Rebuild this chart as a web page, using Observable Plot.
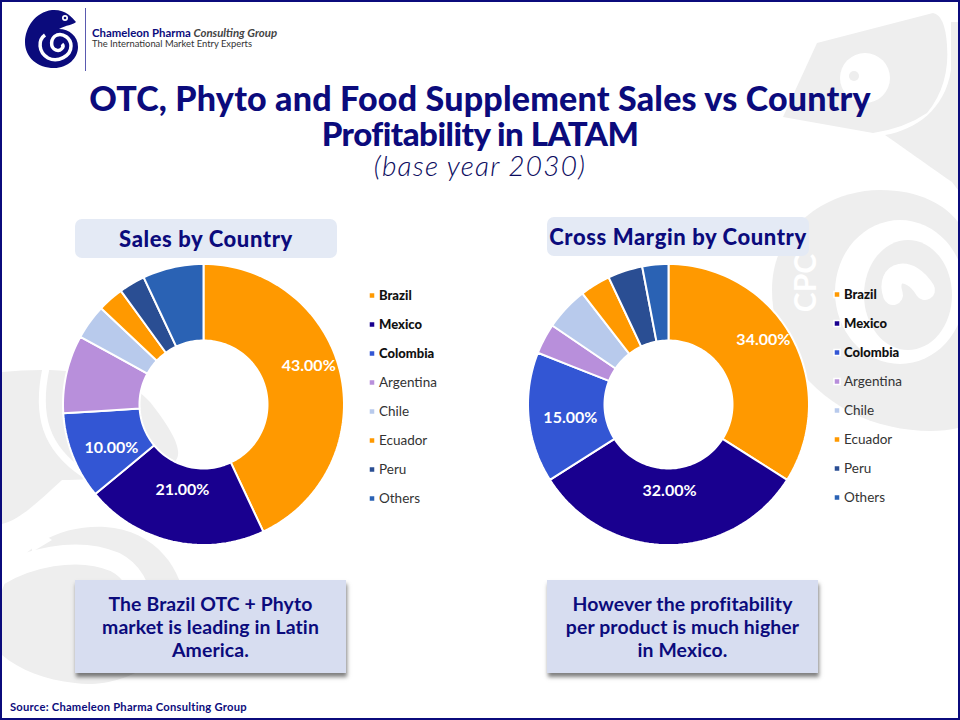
<!DOCTYPE html>
<html><head><meta charset="utf-8">
<script src="https://cdn.jsdelivr.net/npm/d3@7"></script>
<script src="https://cdn.jsdelivr.net/npm/@observablehq/plot@0.6"></script>
<style>
html,body{margin:0;padding:0;background:#fff}
#page{position:relative;width:960px;height:720px;overflow:hidden;background:#fff;font-family:Lato,sans-serif;color:#0b0b7c}
#frame{position:absolute;inset:0;border:2px solid #0b0b7c;box-sizing:border-box;pointer-events:none;z-index:9}
.abs{position:absolute}
#title{left:0;width:960px;top:80px;text-align:center;font-size:34px;font-weight:900;line-height:35px;letter-spacing:.2px}
#title span{font-size:33px;letter-spacing:-.5px}
#sub{left:0;width:960px;top:148px;text-align:center;font-size:28px;font-style:italic;font-weight:300;letter-spacing:1.2px;color:#0b0b60}
.pill{background:#e4eaf5;border-radius:7px;text-align:center;font-size:22px;font-weight:900;letter-spacing:.6px;height:39px;line-height:39px}
.note{background:#d7ddf0;box-shadow:1px 4px 4px rgba(0,0,0,.5);text-align:center;font-size:19.4px;font-weight:700;line-height:23px;width:271px;height:93px;padding-top:12px;box-sizing:border-box;letter-spacing:.12px}
.plot{position:absolute}
.plot svg{display:block;background:transparent!important}
#src{left:10px;top:700px;font-size:11.2px;font-weight:700;letter-spacing:.25px}
#brand{left:92px;top:26px;font-size:11.4px;font-weight:700;color:#0b0b7c}
#brand i{color:#444;font-weight:700}
#tag{left:92px;top:38px;font-size:9.4px;color:#333}
</style></head><body>
<div id="page">
<svg class="abs" id="decor" width="960" height="720" style="left:0;top:0">
 <g fill="#eeeeee">
  <path d="M2 372C60 366 125 372 150 402C180 440 185 458 170 465C140 475 95 480 62 480C40 500 20 520 2 524Z"/>
  <path d="M2 590C20 545 60 525 105 527C155 530 185 570 185 610C180 660 120 690 75 683C45 680 20 670 2 655Z"/>
  <path d="M772 290C772 225 830 190 880 190C920 190 945 205 958 222V428C930 435 885 430 850 412C800 385 772 340 772 290Z"/>
  <path d="M817 43L933 13Q945 15 947 45Q950 85 927 113Q905 128 873 133L783 117Q800 80 817 43Z"/>
  <path d="M951 22H958V190L952 182C920 160 900 145 885 135C915 130 945 110 951 70Z"/>
 </g>
 <circle cx="865" cy="78" r="25" fill="#fff"/><circle cx="854" cy="76" r="5" fill="#eeeeee"/>
 <ellipse cx="900" cy="292" rx="65" ry="72" fill="#fff"/>
 <ellipse cx="908" cy="295" rx="44" ry="55" fill="#eeeeee"/>
 <path d="M925 290C910 265 885 270 893 295" fill="none" stroke="#fff" stroke-width="20" stroke-linecap="round"/>
 <path d="M46 368C36 415 45 448 84 474" fill="none" stroke="#fff" stroke-width="7"/>
 <path d="M30 525L52 540L32 552Z" fill="#fff"/>
 <path d="M0 575C25 560 75 545 115 562C150 580 150 630 115 640C95 645 80 625 95 610" fill="none" stroke="#fff" stroke-width="20" stroke-linecap="round"/>
 <text transform="translate(816,283) rotate(-90)" font-family="Lato" font-size="30" font-weight="700" fill="#fff" text-anchor="middle">CPC</text>
 <g>
  <path d="M52 10C35 12 25 28 25 42C25 58 38 68 54 68C68 68 78 58 78 47C78 36 69 29 59 29C66 25 73 25 76 22C72 17 65 9 52 10Z" fill="#0b0b7c"/>
  <path d="M45 35C38 40 38 52 48 58C58 63 71 56 71 46C71 38 63 33 57 35C50 38 50 48 56 50C60 52 65 47 62 44" fill="none" stroke="#fff" stroke-width="3.5"/>
  <circle cx="65" cy="18" r="3" fill="#fff"/><circle cx="65" cy="18" r="1.3" fill="#0b0b7c"/>
  <rect x="85" y="8" width="1" height="63" fill="#5a5ab0"/>
 </g>
</svg>
<div class="abs" id="brand">Chameleon Pharma <i>Consulting Group</i></div>
<div class="abs" id="tag">The International Market Entry Experts</div>
<div class="abs" id="title">OTC, Phyto and Food Supplement Sales vs Country<br><span>Profitability in LATAM</span></div>
<div class="abs" id="sub">(base year 2030)</div>
<div class="abs pill" style="left:75px;top:219px;width:262px">Sales by Country</div>
<div class="abs pill" style="left:547px;top:217px;width:262px">Cross Margin by Country</div>
<div class="abs note" style="left:75px;top:580px">The Brazil OTC + Phyto<br>market is leading in Latin<br>America.</div>
<div class="abs note" style="left:547px;top:580px">However the profitability<br>per product is much higher<br>in Mexico.</div>
<div class="abs" id="src">Source: Chameleon Pharma Consulting Group</div>
<div id="frame"></div>
</div>
<script>
const countries = ["Brazil","Mexico","Colombia","Argentina","Chile","Ecuador","Peru","Others"];
const salesValues  = [43,21,10,9,4,3,3,7];
const marginValues = [34,32,15,3.5,5,3.5,4,3];
const labelled = ["Brazil","Mexico","Colombia"];
const sliceColors = ["#ff9900","#19008f","#3356d4","#b88fdb","#b8caec","#ff9900","#2a4e93","#2a62b4"];
const boldLegend = ["Brazil","Mexico","Colombia"];

const R = 140.5, size = 284;
const rToLat = r => 90 - 90 * r / R;     // radius on the azimuthal map to latitude
const holeLat = rToLat(64), rimLat = rToLat(R);
const toLon = a => 180 - a;              // clockwise from 12 o'clock to longitude
function slices(values){
  let c = 0;
  return values.map((v,i)=>{
    const a0 = c/100*360, a1 = (c+v)/100*360; c += v;
    return {name:countries[i], value:v, a0, a1, mid:(a0+a1)/2};
  });
}
function ring(s){
  const n = Math.max(2, Math.ceil((s.a1-s.a0)/2));
  const outer = d3.range(n+1).map(k=>[toLon(s.a0+(s.a1-s.a0)*k/n), rimLat]);
  const inner = d3.range(n+1).map(k=>[toLon(s.a1-(s.a1-s.a0)*k/n), holeLat]);
  const pts = outer.concat(inner); pts.push(pts[0]);
  return {type:"Feature",properties:s,geometry:{type:"Polygon",coordinates:[pts]}};
}
function donut(values, left, top, place){
  const data = slices(values);
  const plot = Plot.plot({
    width:size,height:size,margin:0,style:{background:"transparent",overflow:"visible"},
    projection:{type:()=>d3.geoAzimuthalEquidistant().rotate([0,-90]).scale(R/(Math.PI/2)).translate([size/2,size/2]).clipAngle(120).precision(.2)},
    color:{domain:countries,range:sliceColors},
    marks:[
      Plot.geo(data.map(ring),{fill:d=>d.properties.name,stroke:"#fff",strokeWidth:2}),
      Plot.text(data.filter(d=>labelled.includes(d.name)),{
        x:d=>toLon(d.mid+place[d.name][0]),y:d=>rToLat(place[d.name][1]),
        text:d=>d.value.toFixed(2)+"%",fill:"#fff",fontSize:16,fontWeight:700,fontFamily:"Lato,sans-serif"})
    ]
  });
  plot.classList.add("plot");
  plot.style.left=left+"px";plot.style.top=top+"px";
  document.getElementById("page").insertBefore(plot,document.getElementById("frame"));
}
function legend(left, top){
  const rows = countries.map(name=>({name}));
  const isBold = d=>boldLegend.includes(d.name);
  const common = {x:()=>17.5,y:"name",text:"name",textAnchor:"start",fontSize:13.5,letterSpacing:1.1,fontFamily:"Lato,sans-serif"};
  const plot = Plot.plot({
    width:110,height:236,margin:0,style:{background:"transparent"},
    x:{domain:[0,110],range:[0,110],axis:null},
    y:{domain:countries,range:[7,212.5],axis:null,type:"point",padding:0},
    color:{domain:countries,range:sliceColors},
    marks:[
      Plot.dot(rows,{x:()=>10.5,y:"name",symbol:"square",r:3.4,fill:"name",stroke:"#fff",strokeWidth:1.5}),
      Plot.text(rows.filter(isBold),{...common,fontWeight:900,fill:"#111",fontSize:13}),
      Plot.text(rows.filter(d=>!isBold(d)),{...common,fontWeight:400,fill:"#333"})
    ]
  });
  plot.classList.add("plot");
  plot.style.left=left+"px";plot.style.top=top+"px";
  document.getElementById("page").insertBefore(plot,document.getElementById("frame"));
}
donut(salesValues,61,262,{Brazil:[-7.4,112],Mexico:[1.3,87.6],Colombia:[-3.4,101.6]});
donut(marginValues,526,262,{Brazil:[-5.6,115],Mexico:[-0.7,86],Colombia:[-2.2,99]});
legend(361,287);
legend(826,286);
</script>
</body></html>
